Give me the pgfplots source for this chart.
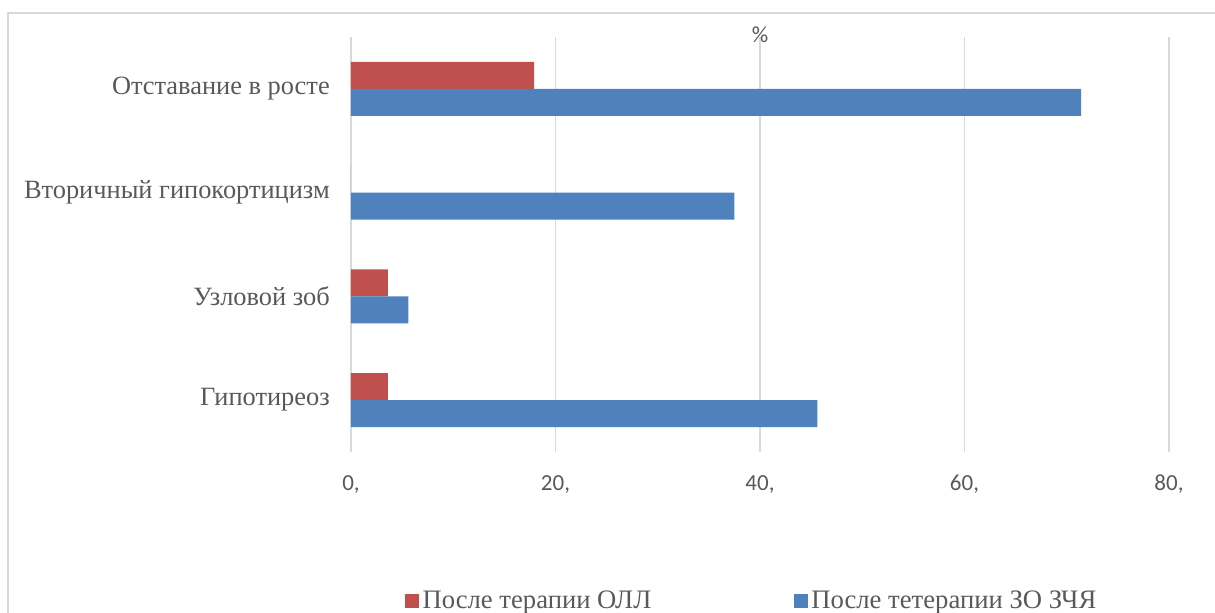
\documentclass[border=0pt]{standalone}
\usepackage{fontspec}
\setmainfont{Liberation Serif}
\newfontfamily\calib{Carlito}
\usepackage{pgfplots}
\pgfplotsset{compat=1.18}
\definecolor{cred}{HTML}{C0504D}
\definecolor{cblue}{HTML}{4F81BD}
\definecolor{ctext}{HTML}{595959}
\definecolor{cgrid}{HTML}{D9D9D9}
\begin{document}
\begin{tikzpicture}
\useasboundingbox (0pt,0pt) rectangle (911.25pt,459.75pt);
\clip (0pt,0pt) rectangle (911.25pt,459.75pt);
\draw[cgrid, line width=1.1pt] (6pt,-20pt) rectangle (940pt,450pt);
\begin{axis}[
  at={(263.25pt,120.75pt)}, anchor=south west,
  scale only axis, width=613.5pt, height=311.25pt,
  xbar, bar width=20.25pt,
  xmin=0, xmax=80, ymin=-0.5, ymax=3.5,
  xtick={0,20,40,60,80}, xticklabels={{0,},{20,},{40,},{60,},{80,}},
  ytick={0,1,2,3},
  yticklabels={Гипотиреоз, Узловой зоб, Вторичный гипокортицизм, Отставание в росте},
  major tick length=0pt,
  axis line style={draw=none},
  xmajorgrids, grid style={cgrid, line width=1.3pt},
  xticklabel style={font=\calib\fontsize{17.25}{20}\selectfont, text=ctext, inner sep=0pt, anchor=north, yshift=-17.25pt},
  yticklabel style={font=\fontsize{19.8}{22}\selectfont, text=ctext, inner sep=0pt, anchor=east, xshift=-15.75pt},
  legend style={draw=none, fill=none, at={(0.066,-0.359)}, anchor=west, legend columns=2,
    font=\fontsize{20}{22}\selectfont, text=ctext, inner sep=0pt,
    nodes={inner sep=2.5pt},
    /tikz/every even column/.append style={column sep=104.5pt}},
  legend image code/.code={\fill[#1] (0pt,-5.25pt) rectangle (10.5pt,5.25pt);},
  legend cell align=left,
]
\addplot[fill=cred, draw=none, bar shift=10.125pt] coordinates {(3.6,0) (3.6,1) (0,2) (17.9,3)};
\addlegendentry{После терапии ОЛЛ}
\addplot[fill=cblue, draw=none, bar shift=-10.125pt] coordinates {(45.6,0) (5.6,1) (37.5,2) (71.4,3)};
\addlegendentry{После тетерапии ЗО ЗЧЯ}
\end{axis}
\node[font=\calib\fontsize{17.25}{20}\selectfont, text=ctext] at (570pt,433.5pt) {\%};
\end{tikzpicture}
\end{document}
